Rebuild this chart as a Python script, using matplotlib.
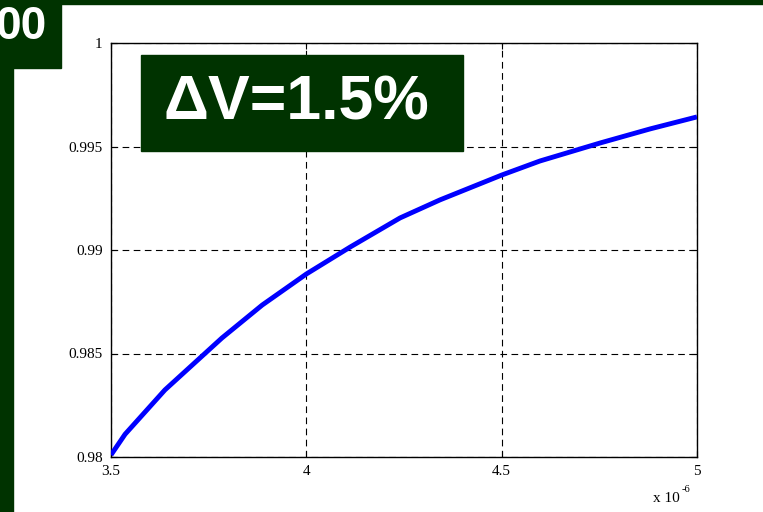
import matplotlib
matplotlib.use("Agg")
import matplotlib.pyplot as plt
from matplotlib.patches import Rectangle
from matplotlib.ticker import FixedLocator, FixedFormatter

# Curve samples (x in units of 1e-6)
x_vals = [3.5, 3.536, 3.638, 3.784, 3.887, 4.0, 4.112, 4.24, 4.342, 4.5, 4.598, 4.752, 4.88, 5.0]
y_vals = [0.9801, 0.9811, 0.98324, 0.98575, 0.98734, 0.98884, 0.99014, 0.99155, 0.99242,
          0.99362, 0.9943, 0.99517, 0.99585, 0.99643]
x_ticks = [3.5, 4.0, 4.5, 5.0]
x_tick_labels = ["3.5", "4", "4.5", "5"]
y_ticks = [0.98, 0.985, 0.99, 0.995, 1.0]
y_tick_labels = ["0.98", "0.985", "0.99", "0.995", "1"]
badge_text = "ΔV=1.5%"
corner_text = "00"

GREEN = "#003300"
W, H = 763, 512
fig = plt.figure(figsize=(W / 100, H / 100), dpi=100)
fig.patch.set_facecolor("white")

# Frame bands
fig.patches.append(Rectangle((0, 1 - 4 / H), 1, 4 / H, transform=fig.transFigure, color=GREEN, zorder=0))
fig.patches.append(Rectangle((0, 0), 13 / W, 1, transform=fig.transFigure, color=GREEN, zorder=0))
fig.patches.append(Rectangle((0, 1 - 68 / H), 61 / W, 68 / H, transform=fig.transFigure, color=GREEN, zorder=0))
fig.text(46 / W, 1 - 27 / H, corner_text, color="white", fontsize=33, fontweight="bold",
         family="Liberation Sans", ha="right", va="center")

ax = fig.add_axes([111 / W, 1 - 457 / H, (697 - 111) / W, (457 - 43) / H])
ax.plot([x * 1e-6 for x in x_vals], y_vals, color="#0000ff", lw=3.5, solid_capstyle="butt", zorder=3)
ax.set_xlim(3.5e-6, 5e-6)
ax.set_ylim(0.98, 1.0)

ax.xaxis.set_major_locator(FixedLocator([t * 1e-6 for t in x_ticks]))
ax.xaxis.set_major_formatter(FixedFormatter(x_tick_labels))
ax.yaxis.set_major_locator(FixedLocator(y_ticks))
ax.yaxis.set_major_formatter(FixedFormatter(y_tick_labels))
ax.tick_params(direction="in", length=4, width=0.8, labelsize=11, pad=6,
               top=True, right=True)
for lab in ax.get_xticklabels() + ax.get_yticklabels():
    lab.set_family("Liberation Serif")
ax.grid(True, color="black", linestyle=(0, (6, 4)), linewidth=0.8)
for s in ax.spines.values():
    s.set_linewidth(1.0)

# Axis multiplier
fig.text(653 / W, 1 - 498 / H, "x 10", family="Liberation Serif", fontsize=11,
         ha="left", va="center")
fig.text(682 / W, 1 - 490 / H, "-6", family="Liberation Serif", fontsize=7.5,
         ha="left", va="center")

# Label badge
fig.patches.append(Rectangle((141 / W, 1 - 151 / H), (463 - 141) / W, (151 - 55) / H,
                             transform=fig.transFigure, color=GREEN, zorder=5))
fig.text(296 / W, 1 - 103 / H, badge_text, color="white", fontsize=45, fontweight="bold",
         family="Liberation Sans", ha="center", va="center", zorder=6)

fig.savefig("out.png", dpi=100)
